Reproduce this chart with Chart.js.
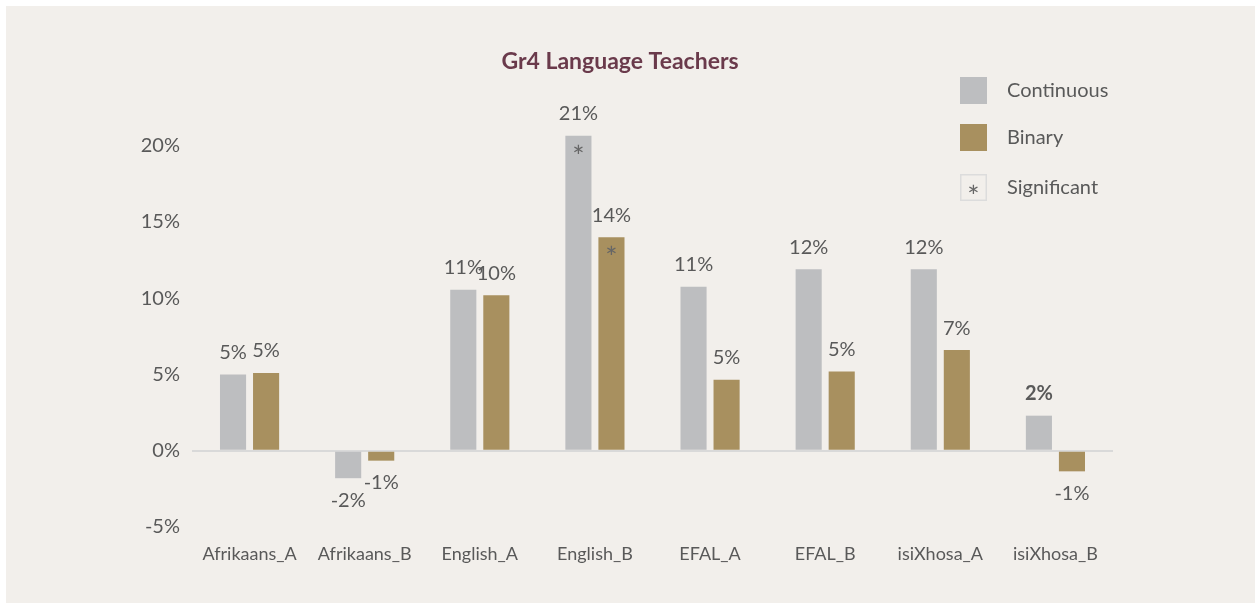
<!DOCTYPE html>
<html>
<head>
<meta charset="utf-8">
<script src="https://cdn.jsdelivr.net/npm/chart.js@4.4.0/dist/chart.umd.min.js"></script>
<style>
  html, body { margin: 0; padding: 0; background: #ffffff; }
  #panel { position: absolute; left: 6px; top: 6px; width: 1249px; height: 597px; background: #f2efeb; }
  canvas { display: block; }
</style>
</head>
<body>
<div id="panel"><canvas id="c" width="1249" height="597"></canvas></div>
<script>
const categories = ['Afrikaans_A', 'Afrikaans_B', 'English_A', 'English_B', 'EFAL_A', 'EFAL_B', 'isiXhosa_A', 'isiXhosa_B'];
const continuousValues = [5.0, -1.8, 10.55, 20.65, 10.75, 11.9, 11.9, 2.3];
const binaryValues = [5.1, -0.65, 10.2, 14.0, 4.65, 5.2, 6.6, -1.35];
const continuousSignificant = [false, false, false, true, false, false, false, false];
const binarySignificant = [false, false, false, true, false, false, false, false];
const yTickValues = [-5, 0, 5, 10, 15, 20];
const seriesNames = ['Continuous', 'Binary'];
const titleText = 'Gr4 Language Teachers';
const significantLabel = 'Significant';

const FONT = 'Lato, "Open Sans", sans-serif';
const TEXT = '#595959';
const COLORS = ['#bdbec0', '#a8905f'];

function drawStar(ctx, x, cy) {
  ctx.save();
  ctx.font = '29px ' + FONT;
  ctx.fillStyle = '#666666';
  ctx.textAlign = 'center';
  ctx.textBaseline = 'alphabetic';
  const m = ctx.measureText('*');
  const asc = m.actualBoundingBoxAscent, desc = m.actualBoundingBoxDescent;
  const baseline = cy + (asc - desc) / 2;
  ctx.fillText('*', x, baseline);
  ctx.restore();
}

const overlayPlugin = {
  id: 'overlay',
  afterDatasetsDraw(chart) {
    const ctx = chart.ctx;
    ctx.save();
    ctx.textAlign = 'center';
    const sigs = [continuousSignificant, binarySignificant];
    chart.data.datasets.forEach((ds, di) => {
      const meta = chart.getDatasetMeta(di);
      meta.data.forEach((bar, i) => {
        const v = ds.data[i];
        const label = Math.round(v) + '%';
        const bold = (di === 0 && i === 7);
        ctx.textBaseline = 'middle';
        ctx.font = (bold ? 'bold ' : '') + '20px ' + FONT;
        ctx.fillStyle = TEXT;
        const y = v >= 0 ? bar.y - 22 : bar.y + 22;
        ctx.fillText(label, bar.x, y);
        if (sigs[di][i]) {
          drawStar(ctx, bar.x, bar.y + 13);
        }
      });
    });
    ctx.restore();
  },
  afterDraw(chart) {
    const ctx = chart.ctx;
    ctx.save();
    ctx.font = 'bold 23px ' + FONT;
    ctx.fillStyle = '#6a3a4b';
    ctx.textAlign = 'center';
    ctx.textBaseline = 'middle';
    ctx.fillText(titleText, 614, 56);
    ctx.textAlign = 'left';
    ctx.font = '20px ' + FONT;
    const boxX = 954, textX = 1001, size = 27;
    const rows = [71, 118, 168];
    seriesNames.forEach((n, k) => {
      ctx.fillStyle = COLORS[k];
      ctx.fillRect(boxX, rows[k], size, size);
      ctx.fillStyle = TEXT;
      ctx.fillText(n, textX, rows[k] + size / 2);
    });
    ctx.strokeStyle = '#dcdcdc';
    ctx.lineWidth = 1.5;
    ctx.strokeRect(boxX + 0.75, rows[2] + 0.75, size - 1.5, size - 1.5);
    drawStar(ctx, boxX + size / 2, rows[2] + size / 2 + 1.5);
    ctx.textAlign = 'left';
    ctx.textBaseline = 'middle';
    ctx.font = '20px ' + FONT;
    ctx.fillStyle = TEXT;
    ctx.fillText(significantLabel, textX, rows[2] + size / 2);
    ctx.restore();
  }
};

new Chart(document.getElementById('c'), {
  type: 'bar',
  data: {
    labels: categories,
    datasets: [
      { label: seriesNames[0], data: continuousValues, backgroundColor: COLORS[0] },
      { label: seriesNames[1], data: binaryValues, backgroundColor: COLORS[1] }
    ]
  },
  options: {
    responsive: false,
    animation: false,
    layout: { padding: { left: 0, right: 142, top: 94, bottom: 0 } },
    datasets: { bar: { categoryPercentage: 0.574, barPercentage: 0.79 } },
    plugins: { legend: { display: false }, title: { display: false }, tooltip: { enabled: false } },
    scales: {
      x: {
        grid: { display: false },
        border: { display: false },
        ticks: { color: TEXT, font: { family: FONT, size: 18 }, padding: 8, maxRotation: 0 },
        afterFit(s) { s.height = 76; }
      },
      y: {
        min: -5,
        max: 23,
        border: { display: false },
        grid: {
          drawTicks: false,
          color: (c) => (c.tick && c.tick.value === 0 ? '#d9d9d9' : 'rgba(0,0,0,0)'),
          lineWidth: 2
        },
        afterBuildTicks(s) { s.ticks = yTickValues.map(v => ({ value: v })); },
        ticks: {
          color: TEXT,
          font: { family: FONT, size: 20 },
          padding: 12,
          callback: (v) => v + '%'
        },
        afterFit(s) { s.width = 186; }
      }
    }
  },
  plugins: [overlayPlugin]
});
</script>
</body>
</html>
